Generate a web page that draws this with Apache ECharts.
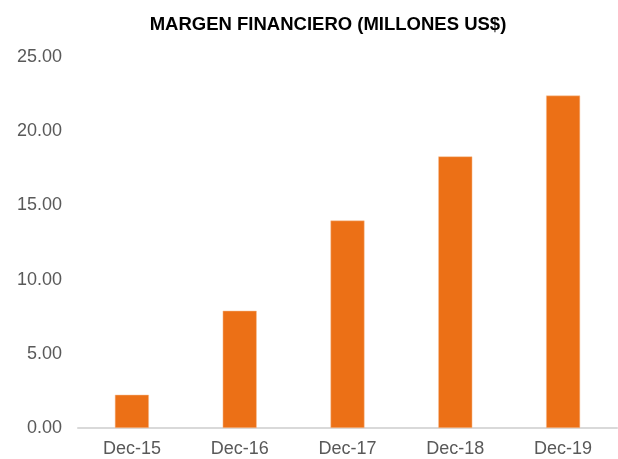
<!DOCTYPE html>
<html>
<head>
<meta charset="utf-8">
<script src="https://cdn.jsdelivr.net/npm/echarts@6/dist/echarts.min.js"></script>
<style>
  html, body { margin: 0; padding: 0; background: #fff; }
  #chart { width: 618px; height: 459px; }
</style>
</head>
<body>
<div id="chart"></div>
<script>
  var categories = ["Dec-15", "Dec-16", "Dec-17", "Dec-18", "Dec-19"];
  var values = [2.24, 7.9, 13.98, 18.3, 22.4];
  var yTicks = [0, 5, 10, 15, 20, 25];

  var myChart = echarts.init(document.getElementById("chart"));
  var option = {
    animation: false,
    title: {
      text: "MARGEN FINANCIERO (MILLONES US$)",
      left: 323,
      textAlign: "center",
      top: 10,
      textStyle: {
        fontFamily: "Liberation Sans",
        fontSize: 18.5,
        fontWeight: "bold",
        color: "#000"
      }
    },
    grid: {
      left: 78,
      right: 1,
      top: 57,
      bottom: 31
    },
    xAxis: {
      type: "category",
      data: categories,
      axisLine: { lineStyle: { color: "#d9d9d9", width: 2 } },
      axisTick: { show: false },
      axisLabel: {
        color: "#595959",
        fontFamily: "Liberation Sans",
        fontSize: 18,
        margin: 12
      }
    },
    yAxis: {
      type: "value",
      min: yTicks[0],
      max: yTicks[yTicks.length - 1],
      interval: 5,
      axisLine: { show: false },
      axisTick: { show: false },
      splitLine: { show: false },
      axisLabel: {
        color: "#595959",
        fontFamily: "Liberation Sans",
        fontSize: 18,
        margin: 16,
        formatter: function (v) { return v.toFixed(2); }
      }
    },
    series: [
      {
        type: "bar",
        data: values,
        barWidth: 34,
        itemStyle: {
          color: "#ec7016",
          borderColor: "#f6c29b",
          borderWidth: 0.5
        }
      }
    ]
  };
  myChart.setOption(option);
</script>
</body>
</html>
